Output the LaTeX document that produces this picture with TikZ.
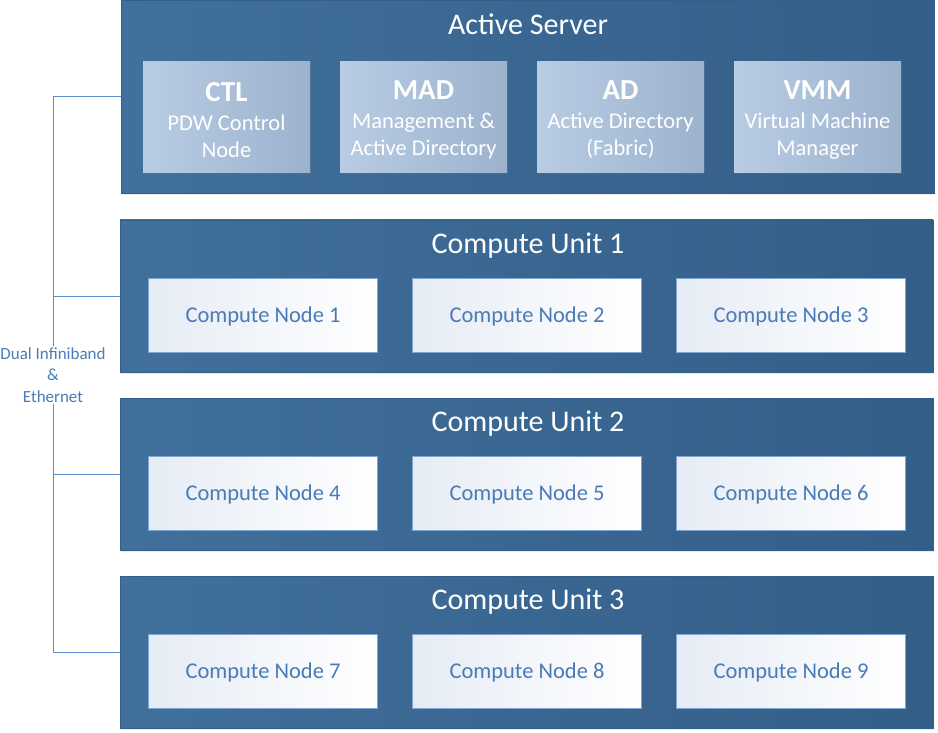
\documentclass[tikz,border=0pt]{standalone}
\usepackage{fontspec}
\setmainfont{Carlito}
\usepackage{tikz}
\usetikzlibrary{
    calc,
    shadows
}
\definecolor{unitblueA}{HTML}{41709C}
\definecolor{unitblueB}{HTML}{335E88}
\definecolor{roleblueA}{HTML}{B8CCE4}
\definecolor{roleblueB}{HTML}{9DB2CD}
\definecolor{nodetint}{HTML}{E6ECF5}
\definecolor{nodeedge}{HTML}{7FA5D0}
\definecolor{nodetext}{HTML}{4A7BB6}
\definecolor{busblue}{HTML}{5B8FCC}
\tikzset{
    unitbox/.style={%
        left color=unitblueA, right color=unitblueB, draw=unitblueB,
        inner sep=0pt, minimum width=813pt, minimum height=152pt,
        drop shadow={opacity=0.15, shadow xshift=1pt, shadow yshift=-2pt}
    },
    unittitle/.style={text=white, text depth=0pt, font=\fontsize{30}{34}\selectfont},
    rolebox/.style={%
        left color=roleblueA, right color=roleblueB, draw=none,
        inner sep=0pt, minimum width=167pt, minimum height=111pt,
        text=white, align=center, font=\fontsize{22.5}{27}\selectfont,
        drop shadow={opacity=0.2, shadow xshift=1pt, shadow yshift=-1.5pt}
    },
    compbox/.style={%
        left color=nodetint, right color=white, draw=nodeedge,
        inner sep=0pt, minimum width=229pt, minimum height=74pt,
        text=nodetext, text depth=0pt, font=\fontsize{22.5}{26}\selectfont
    },
    bus/.style={draw=busblue, line width=1pt}
}
\newcommand{\roletext}[3]{{\bfseries\fontsize{29}{32}\selectfont #1}\\[2pt]#2\\#3}

\begin{document}
\begin{tikzpicture}[x=1pt, y=-1pt]
        \useasboundingbox (0,0) rectangle (938,733);

        % active server
        \node[unitbox, minimum height=193pt] (srv) at (527.5,96.5) {};
        \node[unittitle] (srvtitle) at (528,24) {Active Server};
        \node[rolebox] (ctl) at (226.5,117.5) {};
        \node[rolebox] (mad) at (423.5,117.5) {};
        \node[rolebox] (ad)  at (620.5,117.5) {};
        \node[rolebox] (vmm) at (817.5,117.5) {};
        \node[text=white, align=center, font=\fontsize{22.5}{27}\selectfont] (ctltext) at (226.5,120) {\roletext{CTL}{PDW Control}{Node}};
        \node[text=white, align=center, font=\fontsize{22.5}{27}\selectfont] (madtext) at (423.5,120) {\roletext{MAD}{Management \&}{Active Directory}};
        \node[text=white, align=center, font=\fontsize{22.5}{27}\selectfont] (adtext)  at (620.5,120) {\roletext{AD}{Active Directory}{(Fabric)}};
        \node[text=white, align=center, font=\fontsize{22.5}{27}\selectfont] (vmmtext) at (817.5,120) {\roletext{VMM}{Virtual Machine}{Manager}};

        % compute units
        \node[unitbox] (cu1) at (526.5,296) {};
        \node[unittitle] (cu1title) at (528,243) {Compute Unit 1};
        \node[compbox] (cn1) at (263,315) {Compute Node 1};
        \node[compbox] (cn2) at (527,315) {Compute Node 2};
        \node[compbox] (cn3) at (791,315) {Compute Node 3};

        \node[unitbox] (cu2) at (526.5,474) {};
        \node[unittitle] (cu2title) at (528,421) {Compute Unit 2};
        \node[compbox] (cn4) at (263,493) {Compute Node 4};
        \node[compbox] (cn5) at (527,493) {Compute Node 5};
        \node[compbox] (cn6) at (791,493) {Compute Node 6};

        \node[unitbox] (cu3) at (526.5,652) {};
        \node[unittitle] (cu3title) at (528,599) {Compute Unit 3};
        \node[compbox] (cn7) at (263,671) {Compute Node 7};
        \node[compbox] (cn8) at (527,671) {Compute Node 8};
        \node[compbox] (cn9) at (791,671) {Compute Node 9};

        % interconnect
        \node[text=nodetext, align=center, font=\fontsize{17}{21.5}\selectfont, inner sep=1pt]
            (net) at (53,375) {Dual Infiniband\\\&\\Ethernet};

        \draw[bus] (srv.west) -| (net.north);
        \draw[bus] (net.south) |- (cu3.west);
        \draw[bus] (cu1.west) -- (cu1.west -| net.north);
        \draw[bus] (cu2.west) -- (cu2.west -| net.north);
    \end{tikzpicture}
\end{document}
